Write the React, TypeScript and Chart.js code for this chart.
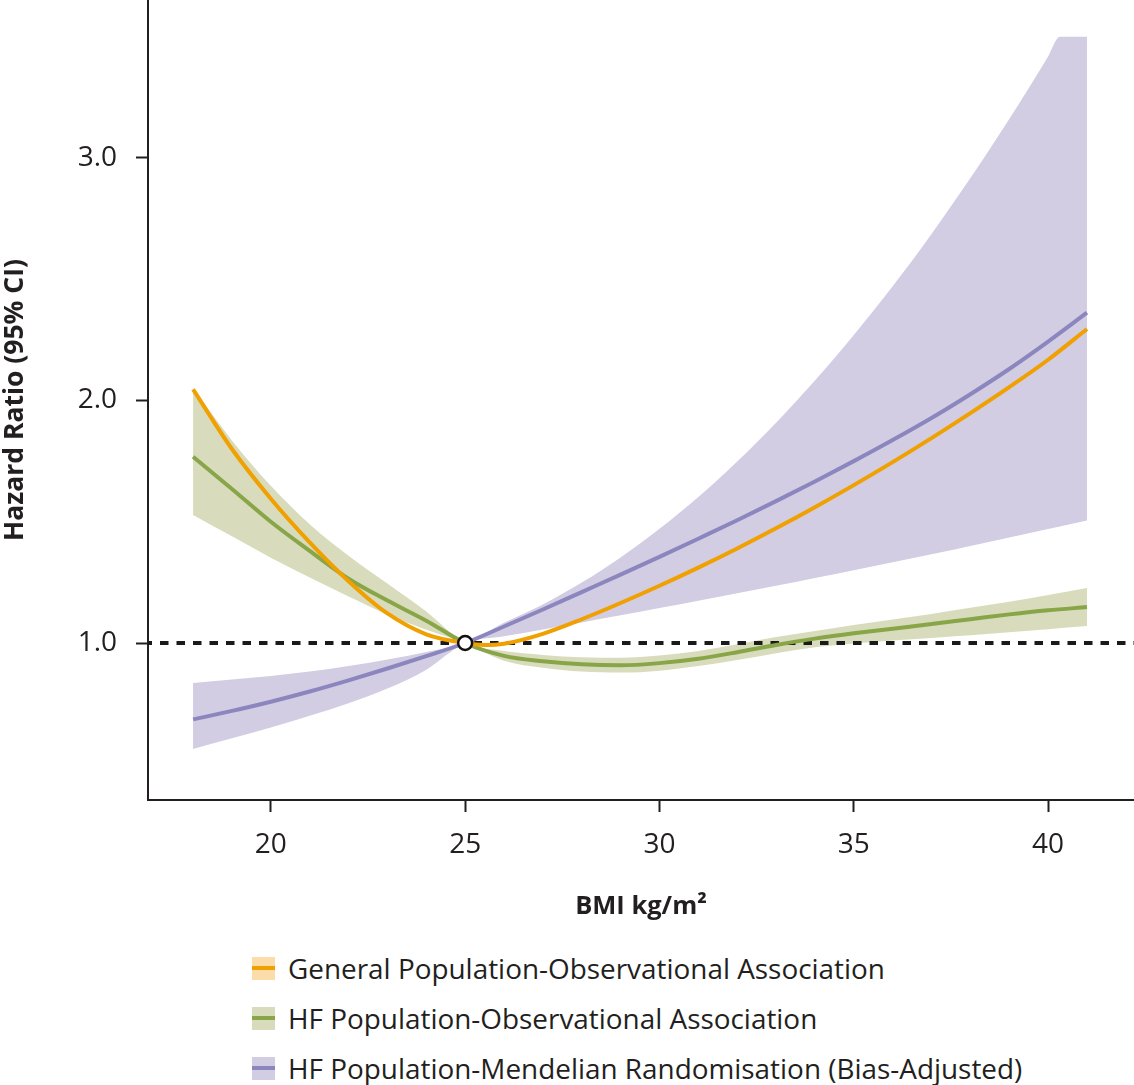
import React, { useEffect, useRef } from 'react';
import { Chart, registerables } from 'chart.js';

Chart.register(...registerables);

// ---- Data ----
const BMI = [18, 19, 20, 21, 22, 23, 24, 25, 26, 27, 28, 29, 30, 31, 32, 33, 34, 35, 36, 37, 38, 39, 40, 41];

// General population – observational association
const BMI_GEN = [18, 19, 20, 21, 22, 23, 24, 25, 25.5, 26, 27, 28, 29, 30, 31, 32, 33, 34, 35, 36, 37, 38, 39, 40, 41];
const HR_GEN = [2.046, 1.8, 1.595, 1.415, 1.255, 1.122, 1.036, 1.0, 0.992, 0.997, 1.038, 1.098, 1.165, 1.236, 1.311, 1.39, 1.473, 1.56, 1.651, 1.746, 1.845, 1.948, 2.055, 2.168, 2.295];

// HF population – observational association
const HR_HF = [1.768, 1.635, 1.5, 1.38, 1.265, 1.175, 1.092, 1.0, 0.947, 0.925, 0.912, 0.908, 0.917, 0.935, 0.962, 0.992, 1.018, 1.04, 1.059, 1.078, 1.098, 1.118, 1.135, 1.148];
const HF_UPPER = [2.05, 1.835, 1.648, 1.49, 1.36, 1.245, 1.13, 1.0, 0.967, 0.951, 0.941, 0.939, 0.948, 0.967, 0.995, 1.025, 1.05, 1.074, 1.097, 1.12, 1.145, 1.17, 1.198, 1.227];
const HF_LOWER = [1.528, 1.44, 1.352, 1.27, 1.192, 1.118, 1.055, 1.0, 0.927, 0.898, 0.882, 0.878, 0.886, 0.905, 0.93, 0.958, 0.982, 0.998, 1.01, 1.021, 1.032, 1.044, 1.057, 1.07];

// HF population – Mendelian randomisation (bias-adjusted)
const HR_MR = [0.685, 0.72, 0.758, 0.8, 0.846, 0.895, 0.946, 1.0, 1.068, 1.138, 1.21, 1.282, 1.355, 1.43, 1.506, 1.585, 1.666, 1.75, 1.837, 1.928, 2.026, 2.13, 2.243, 2.362];
const BMI_MR_BAND = [18, 19, 20, 21, 22, 23, 24, 25, 26, 27, 28, 29, 30, 31, 32, 33, 34, 35, 36, 37, 38, 39, 40, 40.3, 41];
const MR_UPPER = [0.835, 0.85, 0.864, 0.882, 0.905, 0.932, 0.963, 1.0, 1.083, 1.159, 1.249, 1.353, 1.471, 1.602, 1.748, 1.908, 2.082, 2.27, 2.471, 2.687, 2.917, 3.161, 3.419, 3.5, 3.5];
const MR_LOWER = [0.563, 0.607, 0.652, 0.7, 0.752, 0.812, 0.89, 1.0, 1.028, 1.056, 1.085, 1.114, 1.144, 1.174, 1.205, 1.236, 1.268, 1.3, 1.333, 1.366, 1.4, 1.435, 1.47, 1.48, 1.505];

const X_TICKS = [20, 25, 30, 35, 40];
const Y_TICKS = [1.0, 2.0, 3.0];
const X_RANGE = [16.84, 42.21];
const Y_RANGE = [0.3526, 3.6515];
const REF_POINT = { x: 25, y: 1.0 };

const LEGEND_LABELS = [
  'General Population-Observational Association',
  'HF Population-Observational Association',
  'HF Population-Mendelian Randomisation (Bias-Adjusted)',
];

const ORANGE = '#F0A000';
const ORANGE_LIGHT = '#FCDDAA';
const GREEN = '#88A548';
const GREEN_BAND = '#D9DCBC';
const PURPLE = '#8C86BE';
const PURPLE_BAND = '#D2CDE3';
const INK = '#231f20';
const FONT = '"Open Sans", "Noto Sans", sans-serif';

const pts = (xs: number[], ys: number[]) => xs.map((x, i) => ({ x, y: ys[i] }));

export default function App() {
  const ref = useRef<HTMLCanvasElement>(null);

  useEffect(() => {
    document.body.style.margin = '0';
    const line = {
      pointRadius: 0,
      cubicInterpolationMode: 'monotone' as const,
      fill: false,
    };
    const chart = new Chart(ref.current!, {
      type: 'line',
      data: {
        datasets: [
          {
            data: [REF_POINT],
            showLine: false,
            pointRadius: 7,
            pointBorderWidth: 2.5,
            pointBackgroundColor: '#ffffff',
            pointBorderColor: '#111111',
            order: 0,
          } as any,
          { ...line, data: pts(BMI_GEN, HR_GEN), borderColor: ORANGE, borderWidth: 4, order: 1 },
          { ...line, data: pts(BMI, HR_HF), borderColor: GREEN, borderWidth: 4, order: 2 },
          { ...line, data: pts(BMI, HR_MR), borderColor: PURPLE, borderWidth: 4, order: 3 },
          {
            data: [{ x: X_RANGE[0], y: 1 }, { x: X_RANGE[1], y: 1 }],
            pointRadius: 0,
            borderColor: '#1a1a1a',
            borderWidth: 4,
            borderDash: [8.5, 8],
            borderDashOffset: -12,
            fill: false,
            order: 4,
          },
          { ...line, data: pts(BMI, HF_UPPER), borderWidth: 0, borderColor: 'rgba(0,0,0,0)', backgroundColor: GREEN_BAND, fill: 6, order: 5 },
          { ...line, data: pts(BMI, HF_LOWER), borderWidth: 0, borderColor: 'rgba(0,0,0,0)', order: 6 },
          { ...line, data: pts(BMI_MR_BAND, MR_UPPER), borderWidth: 0, borderColor: 'rgba(0,0,0,0)', backgroundColor: PURPLE_BAND, fill: 8, order: 7 },
          { ...line, data: pts(BMI_MR_BAND, MR_LOWER), borderWidth: 0, borderColor: 'rgba(0,0,0,0)', order: 8 },
        ] as any,
      },
      options: {
        animation: false,
        responsive: false,
        events: [],
        layout: { padding: 0, autoPadding: false },
        plugins: {
          legend: { display: false },
          tooltip: { enabled: false },
        },
        scales: {
          x: {
            type: 'linear',
            min: X_RANGE[0],
            max: X_RANGE[1],
            afterBuildTicks: (axis: any) => {
              axis.ticks = X_TICKS.map((v) => ({ value: v }));
            },
            afterFit: (axis: any) => {
              axis.height = 130;
              axis.paddingLeft = 0;
              axis.paddingRight = 0;
              axis.paddingTop = 0;
              axis.paddingBottom = 0;
            },
            grid: {
              display: true,
              drawOnChartArea: false,
              drawTicks: true,
              tickLength: 12,
              tickWidth: 2,
              tickColor: INK,
            },
            border: { display: true, color: INK, width: 2 },
            ticks: {
              color: INK,
              font: { family: FONT, size: 28 },
              padding: 16,
              maxRotation: 0,
              callback: (v: any) => String(v),
            },
            title: {
              display: true,
              text: 'BMI kg/m²',
              color: INK,
              font: { family: FONT, size: 25.5, weight: 'bold' },
              padding: { top: 0, bottom: 8 },
            },
          },
          y: {
            type: 'linear',
            min: Y_RANGE[0],
            max: Y_RANGE[1],
            afterBuildTicks: (axis: any) => {
              axis.ticks = Y_TICKS.map((v) => ({ value: v }));
            },
            afterFit: (axis: any) => {
              axis.width = 148;
              axis.paddingTop = 0;
              axis.paddingBottom = 0;
              axis.paddingLeft = 0;
              axis.paddingRight = 0;
            },
            grid: {
              display: true,
              drawOnChartArea: false,
              drawTicks: true,
              tickLength: 12,
              tickWidth: 2,
              tickColor: INK,
            },
            border: { display: true, color: INK, width: 2 },
            ticks: {
              color: INK,
              font: { family: FONT, size: 28 },
              padding: 19,
              callback: (v: any) => Number(v).toFixed(1),
            },
            title: {
              display: true,
              text: 'Hazard Ratio (95% CI)',
              color: INK,
              font: { family: FONT, size: 26.5, weight: 'bold' },
              padding: { top: 0, bottom: 0 },
            },
          },
        },
      } as any,
    });
    return () => chart.destroy();
  }, []);

  const swatches = [
    { fill: ORANGE_LIGHT, line: ORANGE },
    { fill: GREEN_BAND, line: GREEN },
    { fill: PURPLE_BAND, line: PURPLE },
  ];

  return (
    <div style={{ position: 'relative', width: 1134, height: 1085, background: '#ffffff', fontFamily: FONT }}>
      <canvas ref={ref} width={1134} height={930} style={{ position: 'absolute', left: 0, top: 0, width: 1134, height: 930 }} />
      {LEGEND_LABELS.map((label, i) => {
        const cy = 968 + i * 50;
        return (
          <div key={label} style={{ position: 'absolute', left: 252, top: cy - 20, height: 40, display: 'flex', alignItems: 'center', whiteSpace: 'nowrap' }}>
            <div style={{ position: 'relative', width: 23, height: 23, background: swatches[i].fill }}>
              <div style={{ position: 'absolute', left: 0, right: 0, top: 9.5, height: 4, background: swatches[i].line }} />
            </div>
            <span style={{ marginLeft: 13, fontSize: 27.9, color: INK, lineHeight: '40px' }}>{label}</span>
          </div>
        );
      })}
    </div>
  );
}
